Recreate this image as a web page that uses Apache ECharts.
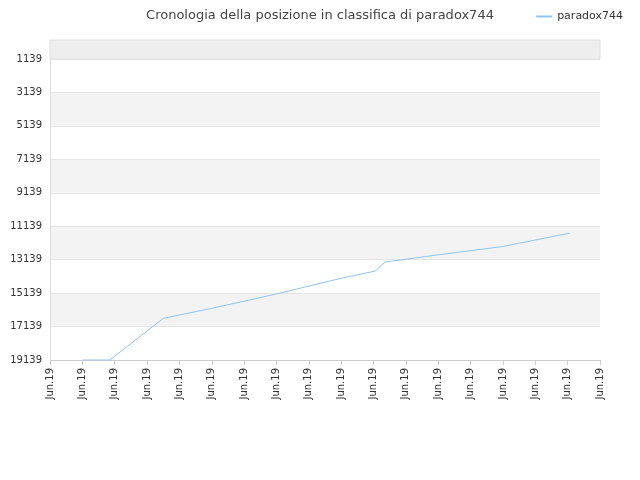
<!DOCTYPE html>
<html><head><meta charset="utf-8">
<script src="https://cdn.jsdelivr.net/npm/echarts@6/dist/echarts.min.js"></script>
<style>html,body{margin:0;padding:0}#c{width:640px;height:480px}</style>
</head><body><div id="c"></div>
<script>
const xLabels = Array(18).fill('Jun.19');
const posX = [1, 1.85, 3.5, 5, 7, 9, 10.05, 10.36, 12, 14, 16.07];
const posY = [19139, 19139, 16650, 16050, 15190, 14250, 13820, 13280, 12850, 12350, 11550];
const yTicks = [1139,3139,5139,7139,9139,11139,13139,15139,17139,19139];
const chart = echarts.init(document.getElementById('c'));
chart.setOption({
  animation:false,
  title:{text:'Cronologia della posizione in classifica di paradox744',left:'center',top:4,textStyle:{fontSize:13,fontWeight:'normal',color:'#444',fontFamily:'DejaVu Sans'}},
  legend:{right:12,top:6,itemWidth:16,itemHeight:2,icon:'rect',textStyle:{fontSize:11,color:'#333',fontFamily:'DejaVu Sans'},data:['paradox744']},
  graphic:[{type:'rect',shape:{x:50,y:40,width:550,height:19},style:{fill:'#eeeeee',stroke:'#e0e0e0'},z:-1}],
  grid:{left:50,right:40,top:59,bottom:120},
  xAxis:{type:'value',min:0,max:17,interval:1,
    axisLabel:{rotate:90,fontSize:10,color:'#333',formatter:(v)=>xLabels[v]||'',fontFamily:'DejaVu Sans'},
    axisLine:{lineStyle:{color:'#ccc'}},axisTick:{show:true,lineStyle:{color:'#ccc'}},splitLine:{show:false}},
  yAxis:{type:'value',inverse:true,min:1139,max:19139,interval:2000,
    axisLabel:{fontSize:10,color:'#333',fontFamily:'DejaVu Sans',formatter:(v)=>String(v)},
    axisLine:{show:true,lineStyle:{color:'#ddd'}},axisTick:{show:false},
    splitLine:{lineStyle:{color:'#e4e4e4'}},
    splitArea:{show:true,areaStyle:{color:['#ffffff','#f3f3f3']}}},
  series:[{name:'paradox744',type:'line',symbol:'none',lineStyle:{width:1,color:'#90c4f2'},itemStyle:{color:'#90c4f2'},
    data:posX.map((x,i)=>[x,posY[i]])}]
});
</script></body></html>
